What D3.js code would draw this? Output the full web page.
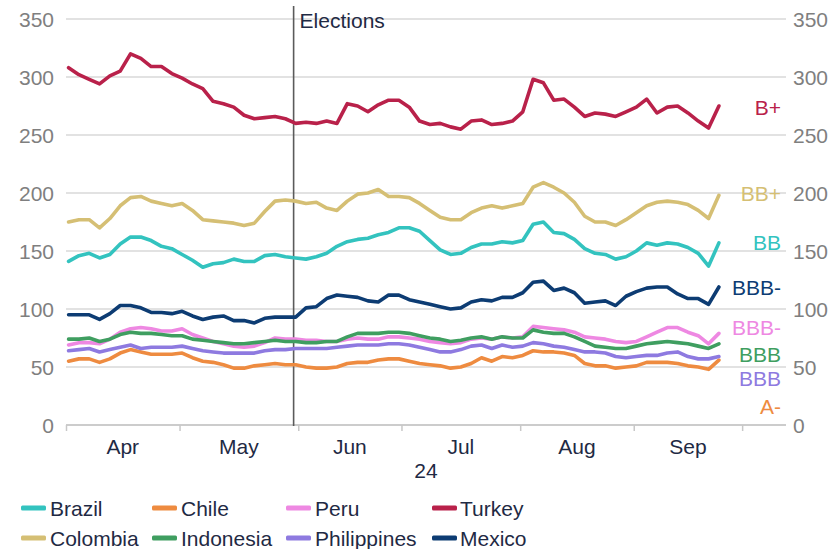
<!DOCTYPE html>
<html><head><meta charset="utf-8">
<script src="https://cdn.jsdelivr.net/npm/d3@7"></script>
<style>
body{margin:0;background:#fff}
svg{display:block}
text{font-family:"Liberation Sans",Arial,sans-serif}
</style>
</head><body>
<svg id="chart" width="840" height="549"></svg>
<script>
// ---- DATA (values every 2 business days from 1 Apr 2024) ----
const dayStep = 2;
const brazil = [141,146,148,144,147,156,162,162,159,154,152,147,142,136,139,140,143,141,141,146,147,145,144,143,145,148,154,158,160,161,164,166,170,170,167,159,151,147,148,153,156,156,158,157,159,173,175,166,165,160,152,148,147,143,145,150,157,155,157,156,153,148,137,157];
const chile = [55,57,57,54,57,62,65,63,61,61,61,62,58,55,54,52,49,49,51,52,53,52,52,50,49,49,50,53,54,54,56,57,57,55,53,52,51,49,50,53,58,55,59,58,60,64,63,63,62,60,53,51,51,49,50,51,54,54,54,53,51,50,48,56];
const peru = [69,71,71,70,74,80,83,84,83,81,81,83,78,75,72,70,68,67,68,71,75,74,74,73,73,72,72,74,75,74,74,76,76,75,74,72,71,70,71,74,75,74,76,75,76,85,84,83,82,80,76,75,74,72,71,72,76,80,84,84,80,77,70,79];
const turkey = [308,302,298,294,301,305,320,316,309,309,303,299,294,290,279,277,274,267,264,265,266,264,260,261,260,262,260,277,275,270,276,280,280,274,262,259,260,257,255,262,263,259,260,262,270,298,295,280,281,274,266,269,268,266,270,274,281,269,274,275,269,262,256,275];
const colombia = [175,177,177,170,178,189,196,197,193,191,189,191,185,177,176,175,174,172,174,184,193,194,193,191,192,187,185,193,199,200,203,197,197,196,191,185,179,177,177,183,187,189,187,189,191,205,209,205,200,192,180,175,175,172,177,183,189,192,193,192,190,185,178,198];
const indonesia = [74,74,75,72,74,78,80,79,79,78,77,77,74,73,72,71,70,70,71,72,73,72,72,71,71,72,72,76,79,79,79,80,80,79,77,75,74,72,73,75,76,74,76,75,75,82,80,79,79,76,72,68,67,66,66,68,70,71,72,71,70,68,66,70];
const philippines = [64,65,66,63,65,67,69,66,67,67,67,68,66,64,63,62,62,62,62,64,65,65,66,66,66,66,67,68,69,69,69,70,70,69,67,65,63,63,65,68,69,66,69,67,68,71,70,68,67,65,63,63,62,59,58,59,60,60,62,63,59,57,57,59];
const mexico = [95,95,95,91,96,103,103,101,97,97,96,98,94,91,93,94,90,90,88,92,93,93,93,101,102,109,112,111,110,107,106,112,112,108,106,104,102,100,101,106,108,107,110,110,114,123,124,116,118,114,105,106,107,103,111,115,118,119,119,113,109,109,104,119];

const countries = ["Brazil","Chile","Peru","Turkey","Colombia","Indonesia","Philippines","Mexico"];
const ratings = ["BB","A-","BBB-","B+","BB+","BBB","BBB","BBB-"];
const valuesByCountry = [brazil,chile,peru,turkey,colombia,indonesia,philippines,mexico];

const yTicks = [0,50,100,150,200,250,300,350];
const monthBoundaries = [-0.5,21.5,44.5,64.5,87.5,109.5,130.5]; // business-day index
const monthLabels = ["Apr","May","Jun","Jul","Aug","Sep"];
const yearLabel = "24";
const electionDay = 43.6;
const electionLabel = "Elections";

// ---- STYLE / LAYOUT ----
const colors = {Brazil:"#33c3bf",Chile:"#ee8b40",Peru:"#ee88e2",Turkey:"#b9214a",
  Colombia:"#d5bf74",Indonesia:"#3f9e60",Philippines:"#8e7ae0",Mexico:"#0d3c73"};
// rating label vertical anchors (in data units), to avoid overlaps
const labelAnchor = {Turkey:273.4,Colombia:199.5,Brazil:157.4,Mexico:118.7,Peru:84.3,Indonesia:61,Philippines:40.4,Chile:16.3};
const legendCols = [{sw:21,tx:50},{sw:152,tx:181},{sw:286,tx:315},{sw:432,tx:460}];
const legendRows = [508,538];

const svg = d3.select("#chart");
const x = d3.scaleLinear().domain([-0.5,139]).range([66,786]);
const y = d3.scaleLinear().domain([0,350]).range([425,19]);
const fs = 21;
const textDark = "#1f2a44";
const tickGray = "#7f7f7f";

// gridlines
svg.append("g").selectAll("line").data(yTicks).join("line")
  .attr("x1",x.range()[0]).attr("x2",x.range()[1])
  .attr("y1",d=>y(d)).attr("y2",d=>y(d))
  .attr("stroke",d=>d===0?"#c8c8c8":"#d9d9d9").attr("stroke-width",1.6);

// left & right y axes (labels only)
const yl = d3.axisLeft(y).tickValues(yTicks).tickSize(0).tickPadding(12);
const gl = svg.append("g").attr("transform",`translate(${x.range()[0]},0)`).call(yl);
const yr = d3.axisRight(y).tickValues(yTicks).tickSize(0).tickPadding(7);
const gr = svg.append("g").attr("transform",`translate(${x.range()[1]},0)`).call(yr);
[gl,gr].forEach(g=>{
  g.select(".domain").remove();
  g.selectAll("text").attr("font-size",fs).attr("fill",tickGray)
   .attr("font-family","'Liberation Sans',Arial,sans-serif").attr("dy","0.36em");
});

// x axis tick marks at month boundaries
const xa = d3.axisBottom(x).tickValues(monthBoundaries).tickSize(6).tickFormat("");
const gx = svg.append("g").attr("transform",`translate(0,${y(0)})`).call(xa);
gx.select(".domain").attr("stroke","#c8c8c8").attr("stroke-width",1.6)
  .attr("d",`M${x.range()[0]},0H${x.range()[1]}`);
gx.selectAll(".tick line").attr("stroke","#c8c8c8").attr("stroke-width",1.5);

// month labels
svg.append("g").selectAll("text").data(monthLabels).join("text")
  .attr("x",(d,i)=>(x(monthBoundaries[i])+x(monthBoundaries[i+1]))/2)
  .attr("y",446).attr("dy","0.36em").attr("text-anchor","middle")
  .attr("font-size",fs).attr("fill",textDark).text(d=>d);
svg.append("text").attr("x",(x.range()[0]+x.range()[1])/2).attr("y",470).attr("dy","0.36em")
  .attr("text-anchor","middle").attr("font-size",fs).attr("fill",textDark).text(yearLabel);

// election line
svg.append("line").attr("x1",x(electionDay)).attr("x2",x(electionDay))
  .attr("y1",6).attr("y2",y(0)+1).attr("stroke","#5b5b5b").attr("stroke-width",1.6);
svg.append("text").attr("x",x(electionDay)+6).attr("y",20).attr("dy","0.36em")
  .attr("font-size",fs).attr("fill",textDark).text(electionLabel);

// series lines
const line = d3.line().x((d,i)=>x(i*dayStep)).y(d=>y(d));
const gLines = svg.append("g");
countries.forEach((c,i)=>{
  gLines.append("path").datum(valuesByCountry[i])
    .attr("d",line).attr("fill","none").attr("stroke",colors[c])
    .attr("stroke-width",3.6).attr("stroke-linejoin","round").attr("stroke-linecap","round");
});

// rating labels at right
svg.append("g").selectAll("text").data(countries).join("text")
  .attr("x",781).attr("y",c=>y(labelAnchor[c])).attr("dy","0.36em")
  .attr("text-anchor","end").attr("font-size",fs).attr("fill",c=>colors[c])
  .text((c,i)=>ratings[i]);

// legend
const lg = svg.append("g");
countries.forEach((c,i)=>{
  const row = Math.floor(i/4), col = i%4;
  const cy = legendRows[row];
  lg.append("rect").attr("x",legendCols[col].sw).attr("y",cy-2.5).attr("width",25).attr("height",5)
    .attr("rx",1.5).attr("fill",colors[c]);
  lg.append("text").attr("x",legendCols[col].tx).attr("y",cy).attr("dy","0.36em")
    .attr("font-size",fs).attr("fill",textDark).text(c);
});
</script>
</body></html>
